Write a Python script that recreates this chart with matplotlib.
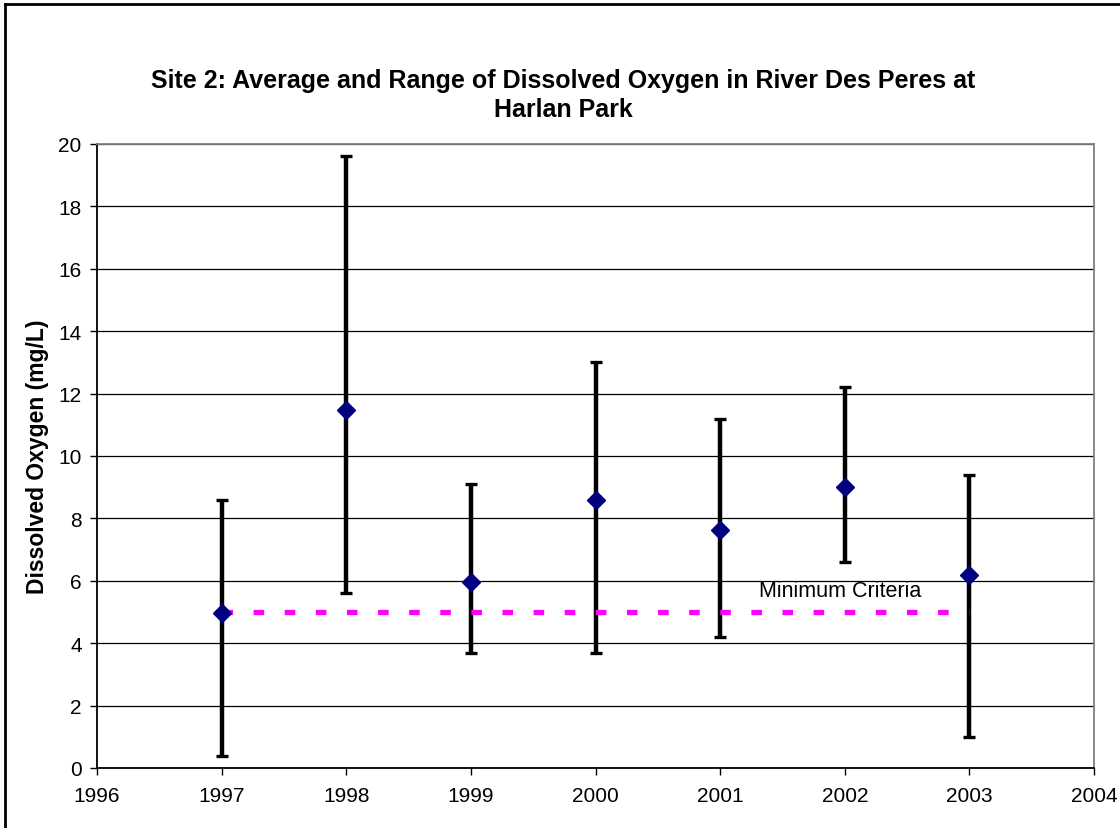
import matplotlib
matplotlib.use("Agg")
import matplotlib.pyplot as plt
from matplotlib.lines import Line2D

plt.rcParams['font.family'] = ['Liberation Sans', 'DejaVu Sans']
plt.rcParams['lines.scale_dashes'] = False

years = [1997, 1998, 1999, 2000, 2001, 2002, 2003]
avg_do = [4.96, 11.47, 5.96, 8.58, 7.64, 9.02, 6.17]
min_do = [0.4, 5.6, 3.7, 3.7, 4.2, 6.6, 1.0]
max_do = [8.6, 19.6, 9.1, 13.0, 11.2, 12.2, 9.4]
criteria_years = [1997, 2003]
criteria_value = [5.0, 5.0]
criteria_label = "Minimum Criteria"
x_ticks = [1996, 1997, 1998, 1999, 2000, 2001, 2002, 2003, 2004]
y_ticks = list(range(0, 21, 2))

fig = plt.figure(figsize=(11.2, 8.29), dpi=100)
ax = fig.add_axes([0.0866, 0.0724, 0.8902, 0.7527])

# figure border (left and top visible)
fig.add_artist(Line2D([0.0045, 0.0045], [0, 0.994], transform=fig.transFigure, color='black', lw=2))
fig.add_artist(Line2D([0.0045, 1.0], [0.994, 0.994], transform=fig.transFigure, color='black', lw=2))

ax.set_xlim(1996, 2004)
ax.set_ylim(0, 20)
ax.set_xticks(x_ticks)
ax.set_yticks(y_ticks)
ax.yaxis.grid(True, color='black', lw=0.9)
ax.set_axisbelow(True)

lower = [a - lo for a, lo in zip(avg_do, min_do)]
upper = [hi - a for a, hi in zip(avg_do, max_do)]
ax.errorbar(years, avg_do, yerr=[lower, upper], fmt='none', ecolor='black',
            elinewidth=3.2, capsize=4.5, capthick=2.4, zorder=3)

ax.plot(criteria_years, criteria_value, color='#FF00FF', lw=3.8,
        dashes=(7.6, 14.8), solid_capstyle='butt', dash_capstyle='butt', zorder=4)

ax.plot(years, avg_do, linestyle='none', marker='D', markersize=9,
        color='#000080', markeredgecolor='#000080', zorder=5)

ax.text(2001.96, 5.5, criteria_label, ha='center', va='baseline', fontsize=15.5)

for s in ['top', 'right']:
    ax.spines[s].set_color('#808080')
    ax.spines[s].set_linewidth(1.3)
for s in ['left', 'bottom']:
    ax.spines[s].set_color('black')
    ax.spines[s].set_linewidth(1.3)

ax.tick_params(axis='both', direction='out', length=5, width=1, labelsize=15, colors='black')
ax.tick_params(axis='x', pad=8)
ax.tick_params(axis='y', pad=6)

ax.set_ylabel("Dissolved Oxygen (mg/L)", fontsize=16.5, fontweight='bold', labelpad=7)

fig.text(0.503, 0.885, "Site 2: Average and Range of Dissolved Oxygen in River Des Peres at\nHarlan Park",
         ha='center', va='center', fontsize=18, fontweight='bold', linespacing=1.25)

fig.savefig("out.png", dpi=100)
